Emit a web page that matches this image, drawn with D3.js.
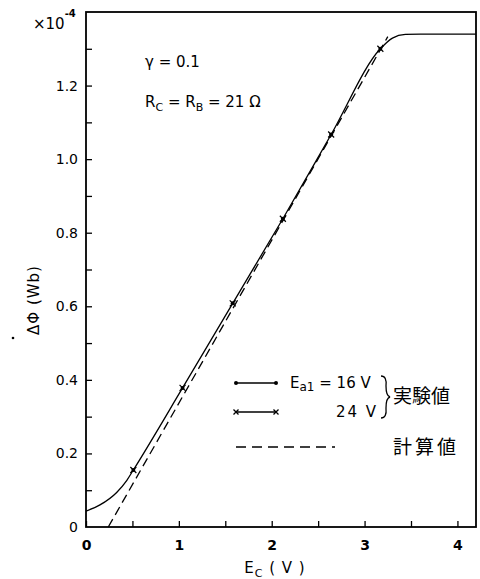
<!DOCTYPE html>
<html><head><meta charset="utf-8">
<script src="https://cdn.jsdelivr.net/npm/d3@7"></script>
<style>
html,body{margin:0;padding:0;background:#fff;}
svg{display:block;font-family:"DejaVu Sans","Liberation Sans",sans-serif;}
</style></head>
<body>
<svg id="c" width="480" height="579"></svg>
<script>
// Data (Ec in V, ΔΦ in 1e-4 Wb)
const measuredEc   = [0.51, 1.04, 1.58, 2.12, 2.64, 3.17];
const measuredPhi  = [0.155, 0.378, 0.608, 0.838, 1.067, 1.30];
const curveEc      = [0, 0.15, 0.33, 0.44, 0.51, 1.04, 1.58, 2.12, 2.64, 3.17, 3.30, 3.44, 3.6, 3.8, 4.0, 4.2];
const curvePhi     = [0.043, 0.060, 0.094, 0.127, 0.155, 0.378, 0.608, 0.838, 1.067, 1.30, 1.329, 1.339, 1.340, 1.340, 1.340, 1.340];
const calcEc       = [0.24, 3.25];
const calcPhi      = [0, 1.333];
const xTickLabels  = [0, 1, 2, 3, 4];
const xTicksAll    = [0, 0.5, 1, 1.5, 2, 2.5, 3, 3.5, 4];
const yTickLabels  = [0, 0.2, 0.4, 0.6, 0.8, 1.0, 1.2];
const yTicksAll    = [0.1, 0.2, 0.3, 0.4, 0.5, 0.6, 0.7, 0.8, 0.9, 1.0, 1.1, 1.2, 1.3];

const svg = d3.select("#c");
const L = 86, R = 476, T = 12, B = 527;
const x = d3.scaleLinear().domain([0, 4.2]).range([L, R]);
const y = d3.scaleLinear().domain([0, 1.4]).range([B, T]);

// frame
svg.append("rect").attr("x", L).attr("y", T).attr("width", R - L).attr("height", B - T)
  .attr("fill", "none").attr("stroke", "#000").attr("stroke-width", 1.8);

// y ticks (inward)
const yt = svg.append("g").attr("transform", `translate(${L},0)`)
  .call(d3.axisRight(y).tickValues(yTicksAll).tickSize(6).tickFormat(""));
yt.select(".domain").remove();
yt.selectAll("line").attr("stroke-width", 1.3);
// y labels
const yl = svg.append("g").attr("transform", `translate(${L},0)`)
  .call(d3.axisLeft(y).tickValues(yTickLabels).tickSize(0).tickPadding(8)
    .tickFormat(d => d === 0 ? "0" : d3.format(".1f")(d)));
yl.select(".domain").remove();
yl.selectAll("text").attr("font-size", 14).attr("font-family", "DejaVu Sans, sans-serif").attr("fill", "#000");

// x ticks (inward)
const xt = svg.append("g").attr("transform", `translate(0,${B})`)
  .call(d3.axisTop(x).tickValues(xTicksAll).tickSize(6).tickFormat(""));
xt.select(".domain").remove();
xt.selectAll("line").attr("stroke-width", 1.3);
const xl = svg.append("g").attr("transform", `translate(0,${B})`)
  .call(d3.axisBottom(x).tickValues(xTickLabels).tickSize(0).tickPadding(13).tickFormat(d3.format("d")));
xl.select(".domain").remove();
xl.selectAll("text").attr("font-size", 14).attr("font-family", "DejaVu Sans, sans-serif").attr("fill", "#000").attr("font-weight", "bold");

// x10^-4
const ex = svg.append("text").attr("x", 33).attr("y", 29).attr("font-size", 15).attr("fill", "#000");
ex.append("tspan").text("×10");
ex.append("tspan").attr("dy", -12).attr("font-size", 10).attr("font-weight", "bold").text("-4");

// axis titles
const xlab = svg.append("text").attr("x", 275).attr("y", 573).attr("text-anchor", "middle")
  .attr("font-size", 15).attr("fill", "#000").attr("letter-spacing", 1);
xlab.append("tspan").text("E");
xlab.append("tspan").attr("dy", 4).attr("font-size", 11).text("C");
xlab.append("tspan").attr("dy", -4).text(" ( V )");

svg.append("text").attr("transform", "translate(39,300) rotate(-90)").attr("text-anchor", "middle")
  .attr("font-size", 15).attr("fill", "#000").attr("letter-spacing", 1).text("ΔΦ (Wb)");
svg.append("circle").attr("cx", 13).attr("cy", 338).attr("r", 1.3).attr("fill", "#000");

// annotations
svg.append("text").attr("x", 145).attr("y", 67).attr("font-size", 15).attr("fill", "#000").text("γ = 0.1");
const rc = svg.append("text").attr("x", 145).attr("y", 107).attr("font-size", 15).attr("fill", "#000");
rc.append("tspan").text("R");
rc.append("tspan").attr("dy", 4).attr("font-size", 11).text("C");
rc.append("tspan").attr("dy", -4).text(" = R");
rc.append("tspan").attr("dy", 4).attr("font-size", 11).text("B");
rc.append("tspan").attr("dy", -4).text(" = 21 Ω");

// calculated (dashed)
const line = d3.line().x(d => x(d[0])).y(d => y(d[1]));
svg.append("path").datum(calcEc.map((e, i) => [e, calcPhi[i]]))
  .attr("d", line).attr("fill", "none").attr("stroke", "#000").attr("stroke-width", 1.3)
  .attr("stroke-dasharray", "9,5");

// experimental curve
svg.append("path").datum(curveEc.map((e, i) => [e, curvePhi[i]]))
  .attr("d", line.curve(d3.curveMonotoneX)).attr("fill", "none").attr("stroke", "#000").attr("stroke-width", 1.3);

// markers: dots (16 V) and crosses (24 V)
const pts = measuredEc.map((e, i) => [e, measuredPhi[i]]);
svg.selectAll("circle.m").data(pts).enter().append("circle").attr("class", "m")
  .attr("cx", d => x(d[0])).attr("cy", d => y(d[1])).attr("r", 2).attr("fill", "#000");
svg.selectAll("path.x").data(pts).enter().append("path").attr("class", "x")
  .attr("d", d => { const cx = x(d[0]), cy = y(d[1]), s = 3;
    return `M${cx-s},${cy-s}L${cx+s},${cy+s}M${cx-s},${cy+s}L${cx+s},${cy-s}`; })
  .attr("stroke", "#000").attr("stroke-width", 1.2);

// legend
const lg = svg.append("g");
lg.append("line").attr("x1", 236).attr("x2", 276).attr("y1", 383).attr("y2", 383).attr("stroke", "#000").attr("stroke-width", 1.3);
lg.append("circle").attr("cx", 236).attr("cy", 383).attr("r", 2).attr("fill", "#000");
lg.append("circle").attr("cx", 276).attr("cy", 383).attr("r", 2).attr("fill", "#000");
lg.append("line").attr("x1", 236).attr("x2", 276).attr("y1", 412).attr("y2", 412).attr("stroke", "#000").attr("stroke-width", 1.3);
[236, 276].forEach(cx => lg.append("path")
  .attr("d", `M${cx-2.5},409.5L${cx+2.5},414.5M${cx-2.5},414.5L${cx+2.5},409.5`)
  .attr("stroke", "#000").attr("stroke-width", 1.3));
lg.append("line").attr("x1", 236).attr("x2", 335).attr("y1", 447).attr("y2", 447).attr("stroke", "#000").attr("stroke-width", 1.3)
  .attr("stroke-dasharray", "10,6");
const e1 = lg.append("text").attr("x", 290).attr("y", 388).attr("font-size", 15).attr("fill", "#000");
e1.append("tspan").text("E");
e1.append("tspan").attr("dy", 3).attr("font-size", 12).text("a1");
e1.append("tspan").attr("dy", -3).text(" = 16 V");
lg.append("text").attr("x", 378).attr("y", 417).attr("text-anchor", "end").attr("font-size", 15).attr("fill", "#000")
  .attr("letter-spacing", 2).text("24 V");
lg.append("path").attr("d", "M381,376 Q387,376 386,386 Q386,396 390,397 Q386,398 386,408 Q387,418 381,418")
  .attr("fill", "none").attr("stroke", "#000").attr("stroke-width", 1.3);
lg.append("text").attr("x", 393).attr("y", 403).attr("font-size", 19).attr("fill", "#000")
  .attr("font-family", "Noto Sans CJK JP, sans-serif").text("実験値");
lg.append("text").attr("x", 393).attr("y", 454).attr("font-size", 19).attr("fill", "#000")
  .attr("letter-spacing", 3).attr("font-family", "Noto Sans CJK JP, sans-serif").text("計算値");
</script>
</body></html>
